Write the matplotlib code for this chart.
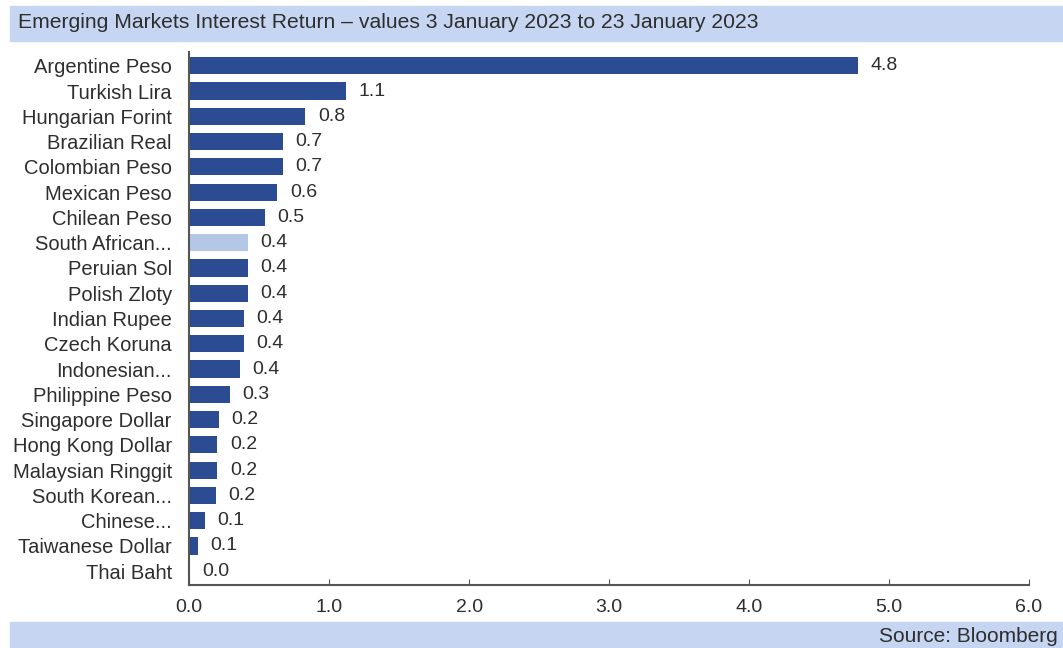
import matplotlib.pyplot as plt
from matplotlib.patches import Rectangle

plt.rcParams['font.family'] = ['Liberation Sans', 'DejaVu Sans']

currencies = ["Argentine Peso", "Turkish Lira", "Hungarian Forint", "Brazilian Real",
              "Colombian Peso", "Mexican Peso", "Chilean Peso", "South African...",
              "Peruian Sol", "Polish Zloty", "Indian Rupee", "Czech Koruna",
              "Indonesian...", "Philippine Peso", "Singapore Dollar", "Hong Kong Dollar",
              "Malaysian Ringgit", "South Korean...", "Chinese...", "Taiwanese Dollar",
              "Thai Baht"]
returns = [4.78, 1.12, 0.83, 0.67, 0.67, 0.63, 0.54, 0.42, 0.42, 0.42, 0.39, 0.39,
           0.36, 0.29, 0.21, 0.20, 0.20, 0.19, 0.11, 0.06, 0.0]
highlight = "South African..."

dark_blue = "#2B4C93"
light_blue = "#B4C7E7"
band = "#C6D6F2"
text_col = "#2E2E2E"

fig = plt.figure(figsize=(10.63, 6.48), dpi=100)
ax = fig.add_axes([0.178, 0.097, 0.79, 0.823])

colors = [light_blue if c == highlight else dark_blue for c in currencies]
ypos = list(range(len(currencies)))
ax.barh(ypos, returns, height=0.68, color=colors)

for y, v in zip(ypos, returns):
    ax.text(v + 0.09, y, f"{v:.1f}", va="center", ha="left", fontsize=14, color=text_col)

ax.set_xlim(0, 6)
ax.set_ylim(len(currencies) - 0.45, -0.55)
ax.set_yticks(ypos)
ax.set_yticklabels(currencies, fontsize=14.5, color=text_col)
ax.set_xticks([0, 1, 2, 3, 4, 5, 6])
ax.set_xticklabels([f"{t:.1f}" for t in range(7)], fontsize=14, color=text_col)
ax.tick_params(axis="y", length=0, pad=12.5)
ax.tick_params(axis="x", direction="in", length=4, color="#555555", pad=10)

for s in ["top", "right"]:
    ax.spines[s].set_visible(False)
for s in ["left", "bottom"]:
    ax.spines[s].set_color("#555555")
    ax.spines[s].set_linewidth(1.5)

# title band and source band
fig.patches.append(Rectangle((10 / 1063, 1 - 41 / 648), 1 - 10 / 1063, 35 / 648,
                             transform=fig.transFigure, color=band, zorder=0))
fig.text(18 / 1063, 1 - 23 / 648,
         "Emerging Markets Interest Return \u2013 values 3 January 2023 to 23 January 2023",
         fontsize=15.2, color=text_col, va="center", ha="left")

fig.patches.append(Rectangle((10 / 1063, 0), 1 - 10 / 1063, 26 / 648,
                             transform=fig.transFigure, color=band, zorder=0))
fig.text(1058 / 1063, 12 / 648, "Source: Bloomberg", fontsize=15, color=text_col,
         va="center", ha="right")

fig.savefig("out.png", dpi=100)
